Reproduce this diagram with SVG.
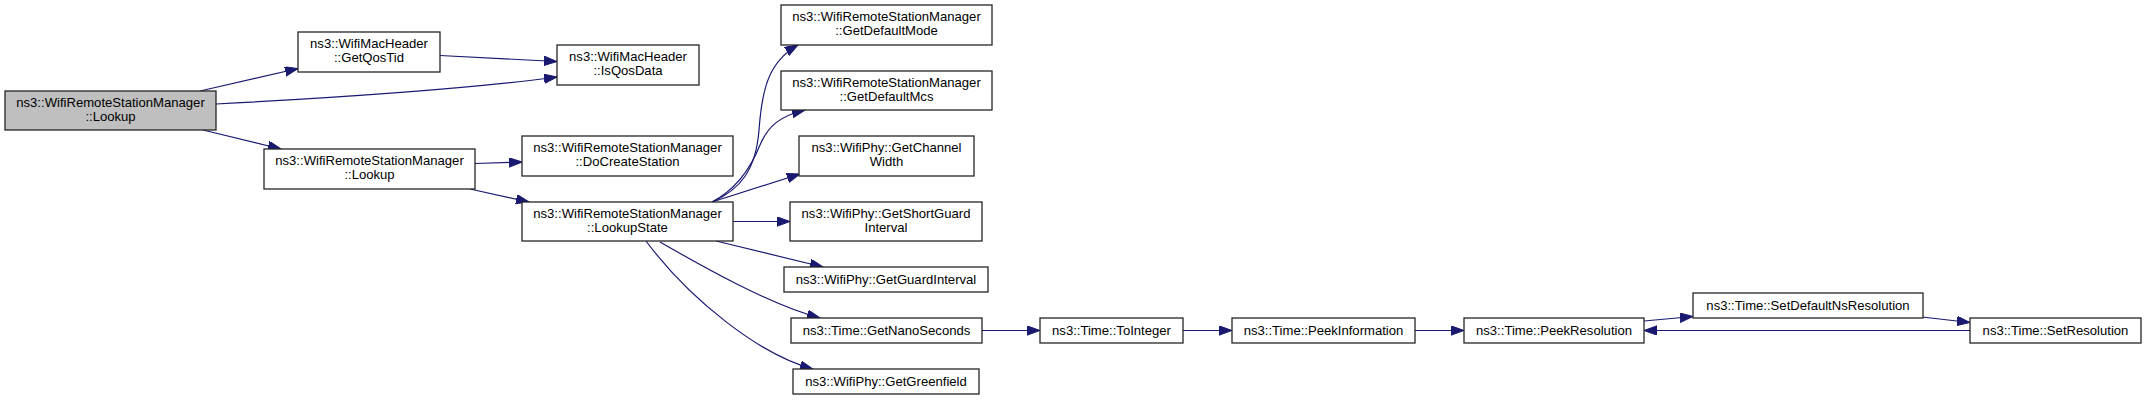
<svg xmlns="http://www.w3.org/2000/svg" width="2147" height="400" viewBox="0 0 2147 400">
<style>
.n rect{fill:#ffffff;stroke:#262626;stroke-width:1.3}
.n.m rect{fill:#bfbfbf}
.n text{font-family:"Liberation Sans",Arial,sans-serif;font-size:13.1px;fill:#000000;text-anchor:middle}
.e path{fill:none;stroke:#191970;stroke-width:1.2}
</style>
<defs>
<marker id="ah" markerUnits="userSpaceOnUse" markerWidth="14" markerHeight="10" refX="13" refY="4.7" orient="auto">
<path d="M0,0 L13,4.7 L0,9.4 z" fill="#191970" stroke="#191970" stroke-width="1"/>
</marker>
</defs>
<rect width="2147" height="400" fill="#ffffff"/>
<g id="edges" class="e">
<path d="M200,91 L298,68.5" marker-end="url(#ah)"/>
<path d="M216,104 C330,98 460,90 557,77" marker-end="url(#ah)"/>
<path d="M440,55.5 L557,61.5" marker-end="url(#ah)"/>
<path d="M203,130 L281,149" marker-end="url(#ah)"/>
<path d="M475,163.5 L522,162" marker-end="url(#ah)"/>
<path d="M470,189 L529,202" marker-end="url(#ah)"/>
<path d="M712,202 C740,190 756,170 759,130 C762,90 768,62 798,45" marker-end="url(#ah)"/>
<path d="M712,202 C735,190 750,170 760,145 C768,126 780,116 805,110" marker-end="url(#ah)"/>
<path d="M712,202 L800,174" marker-end="url(#ah)"/>
<path d="M733,221.5 L790,221.5" marker-end="url(#ah)"/>
<path d="M716,241 L823,267" marker-end="url(#ah)"/>
<path d="M660,242 C700,265 770,305 820,318" marker-end="url(#ah)"/>
<path d="M646,241 C690,300 760,355 813,369" marker-end="url(#ah)"/>
<path d="M982,330.5 L1040,330.5" marker-end="url(#ah)"/>
<path d="M1183,330.5 L1232,330.5" marker-end="url(#ah)"/>
<path d="M1415,330.5 L1464,330.5" marker-end="url(#ah)"/>
<path d="M1644,321 L1693,316.5" marker-end="url(#ah)"/>
<path d="M1922,317 L1970,322.5" marker-end="url(#ah)"/>
<path d="M1970,330.5 L1644,330.5" marker-end="url(#ah)"/>
</g>
<g id="n_main" class="n m"><rect x="5" y="91" width="211" height="39"/><text x="110.5" y="107">ns3::WifiRemoteStationManager</text><text x="110.5" y="121">::Lookup</text></g>
<g id="n_getqostid" class="n"><rect x="298" y="32" width="142" height="40"/><text x="369" y="47.5">ns3::WifiMacHeader</text><text x="369" y="62">::GetQosTid</text></g>
<g id="n_isqosdata" class="n"><rect x="557" y="45" width="142" height="40"/><text x="628" y="60.5">ns3::WifiMacHeader</text><text x="628" y="75">::IsQosData</text></g>
<g id="n_lookup2" class="n"><rect x="264" y="149" width="211" height="40"/><text x="369.5" y="165">ns3::WifiRemoteStationManager</text><text x="369.5" y="179">::Lookup</text></g>
<g id="n_docreatestation" class="n"><rect x="522" y="136" width="211" height="40"/><text x="627.5" y="152">ns3::WifiRemoteStationManager</text><text x="627.5" y="166">::DoCreateStation</text></g>
<g id="n_lookupstate" class="n"><rect x="522" y="202" width="211" height="39"/><text x="627.5" y="218">ns3::WifiRemoteStationManager</text><text x="627.5" y="232">::LookupState</text></g>
<g id="n_getdefaultmode" class="n"><rect x="781" y="5" width="211" height="40"/><text x="886.5" y="21">ns3::WifiRemoteStationManager</text><text x="886.5" y="35">::GetDefaultMode</text></g>
<g id="n_getdefaultmcs" class="n"><rect x="781" y="71" width="211" height="39"/><text x="886.5" y="87">ns3::WifiRemoteStationManager</text><text x="886.5" y="101">::GetDefaultMcs</text></g>
<g id="n_getchannelwidth" class="n"><rect x="799" y="136" width="175" height="40"/><text x="886.5" y="152">ns3::WifiPhy::GetChannel</text><text x="886.5" y="166">Width</text></g>
<g id="n_getshortguardinterval" class="n"><rect x="790" y="202" width="192" height="39"/><text x="886" y="218">ns3::WifiPhy::GetShortGuard</text><text x="886" y="232">Interval</text></g>
<g id="n_getguardinterval" class="n"><rect x="784" y="267" width="204" height="25"/><text x="886" y="284">ns3::WifiPhy::GetGuardInterval</text></g>
<g id="n_getnanoseconds" class="n"><rect x="791" y="318" width="191" height="25"/><text x="886.5" y="335">ns3::Time::GetNanoSeconds</text></g>
<g id="n_getgreenfield" class="n"><rect x="793" y="369" width="186" height="25"/><text x="886" y="386">ns3::WifiPhy::GetGreenfield</text></g>
<g id="n_tointeger" class="n"><rect x="1040" y="318" width="143" height="25"/><text x="1111.5" y="335">ns3::Time::ToInteger</text></g>
<g id="n_peekinformation" class="n"><rect x="1232" y="318" width="183" height="25"/><text x="1323.5" y="335">ns3::Time::PeekInformation</text></g>
<g id="n_peekresolution" class="n"><rect x="1464" y="318" width="180" height="25"/><text x="1554" y="335">ns3::Time::PeekResolution</text></g>
<g id="n_setdefaultnsresolution" class="n"><rect x="1693" y="293" width="230" height="25"/><text x="1808" y="310">ns3::Time::SetDefaultNsResolution</text></g>
<g id="n_setresolution" class="n"><rect x="1970" y="318" width="171" height="25"/><text x="2055.5" y="335">ns3::Time::SetResolution</text></g>
</svg>
